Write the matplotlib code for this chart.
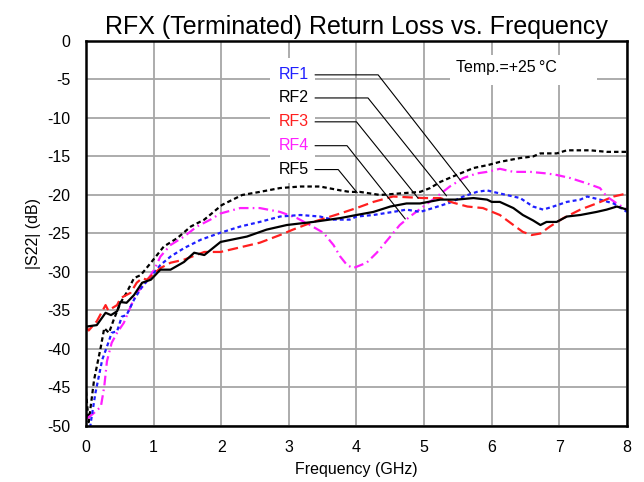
import matplotlib
matplotlib.use("Agg")
import matplotlib.pyplot as plt
from matplotlib.patches import Rectangle

plt.rcParams['font.family'] = ['Liberation Sans', 'DejaVu Sans']
plt.rcParams['lines.scale_dashes'] = False
plt.rcParams['axes.unicode_minus'] = False

# ---- data ----
rf1_f = [0.04, 0.07, 0.14, 0.24, 0.31, 0.38, 0.46, 0.53, 0.60, 0.71, 0.83, 0.96, 1.10, 1.25, 1.45, 1.70,
         1.99, 2.28, 2.57, 2.87, 3.17, 3.46, 3.65, 3.90, 4.00, 4.25, 4.54, 4.74, 4.94, 5.13, 5.38, 5.58,
         5.78, 5.93, 6.02, 6.22, 6.42, 6.61, 6.76, 6.91, 7.11, 7.31, 7.41, 7.60, 7.80, 8.00]
rf1_db = [-52.0, -49.6, -45.7, -41.4, -39.7, -37.9, -37.7, -35.8, -35.6, -33.6, -31.9, -30.6, -29.1, -28.0, -26.9, -25.8,
          -24.9, -24.1, -23.5, -22.8, -22.6, -22.8, -23.2, -23.2, -22.8, -22.6, -22.2, -21.9, -22.2, -21.7, -21.0, -20.2,
          -19.6, -19.4, -19.6, -20.0, -20.4, -21.5, -21.9, -21.5, -20.9, -20.6, -20.2, -20.6, -21.1, -22.2]

rf2_f = [0.00, 0.04, 0.12, 0.22, 0.27, 0.34, 0.41, 0.51, 0.60, 0.71, 0.81, 0.96, 1.15, 1.35, 1.55, 1.75,
         2.01, 2.31, 2.57, 2.87, 3.17, 3.46, 3.76, 3.90, 4.05, 4.35, 4.64, 4.94, 5.09, 5.24, 5.48, 5.73,
         5.95, 6.12, 6.42, 6.61, 6.72, 6.96, 7.11, 7.46, 7.70, 8.00]
rf2_db = [-45.5, -49.5, -44.0, -39.7, -37.3, -37.9, -36.2, -34.0, -32.7, -30.8, -30.4, -28.8, -26.7, -25.6, -24.1, -23.2,
          -21.3, -20.0, -19.6, -19.1, -18.9, -18.9, -19.4, -19.6, -19.6, -20.0, -19.8, -19.6, -19.1, -18.3, -17.4, -16.5,
          -16.1, -15.7, -15.2, -15.0, -14.6, -14.6, -14.2, -14.2, -14.4, -14.4]

rf3_f = [0.00, 0.04, 0.16, 0.29, 0.33, 0.46, 0.51, 0.66, 0.75, 0.83, 0.90, 1.10, 1.25, 1.45, 1.75, 1.99,
         2.57, 2.87, 3.06, 3.36, 3.76, 4.00, 4.25, 4.54, 4.99, 5.24, 5.43, 5.64, 5.87, 6.12, 6.32, 6.46,
         6.59, 6.72, 6.86, 7.06, 7.31, 7.55, 7.80, 8.00]
rf3_db = [-37.1, -37.6, -36.4, -34.3, -35.0, -34.3, -33.4, -32.7, -31.4, -30.8, -31.0, -29.5, -28.8, -28.4, -27.4, -27.4,
          -26.2, -25.2, -24.5, -23.5, -22.4, -21.7, -20.9, -20.2, -20.4, -20.4, -21.0, -21.5, -21.7, -22.6, -23.9, -24.8,
          -25.2, -25.0, -24.1, -23.0, -21.9, -21.1, -20.2, -19.8]

rf4_f = [0.02, 0.12, 0.22, 0.27, 0.31, 0.38, 0.46, 0.56, 0.66, 0.75, 0.86, 1.01, 1.10, 1.25, 1.45, 1.64,
         1.84, 1.99, 2.28, 2.57, 2.87, 3.12, 3.31, 3.51, 3.66, 3.76, 3.86, 3.95, 4.15, 4.30, 4.50, 4.64,
         4.79, 4.99, 5.19, 5.38, 5.58, 5.78, 5.93, 6.12, 6.32, 6.57, 6.81, 6.96, 7.16, 7.41, 7.60, 7.70,
         7.85, 8.00]
rf4_db = [-49.0, -48.3, -47.5, -44.9, -41.6, -39.2, -37.9, -36.6, -34.5, -32.7, -31.7, -29.7, -28.0, -26.5, -25.4, -24.1,
          -23.2, -22.4, -21.7, -21.7, -22.2, -23.0, -23.9, -24.9, -26.5, -28.0, -29.1, -29.5, -28.8, -27.5, -25.4, -23.9,
          -22.8, -21.5, -20.2, -18.9, -17.8, -17.2, -17.0, -16.6, -17.0, -17.0, -17.2, -17.4, -17.8, -18.5, -19.1, -20.2,
          -21.1, -21.9]

rf5_f = [0.00, 0.16, 0.29, 0.37, 0.46, 0.51, 0.60, 0.71, 0.83, 0.96, 1.10, 1.25, 1.45, 1.60, 1.75, 1.99,
         2.38, 2.67, 2.97, 3.36, 3.76, 4.00, 4.25, 4.50, 4.74, 4.94, 5.24, 5.48, 5.73, 5.93, 6.00, 6.12,
         6.32, 6.46, 6.61, 6.72, 6.81, 6.96, 7.11, 7.31, 7.55, 7.70, 7.85, 8.00]
rf5_db = [-37.1, -36.9, -35.3, -35.6, -35.1, -33.9, -34.0, -33.0, -31.4, -31.0, -29.7, -29.7, -28.7, -27.5, -27.8, -26.1,
          -25.4, -24.5, -23.9, -23.5, -23.0, -22.6, -22.2, -21.5, -21.1, -21.1, -20.6, -20.6, -20.4, -20.6, -20.9, -20.9,
          -21.7, -22.6, -23.3, -23.9, -23.5, -23.5, -22.8, -22.6, -22.2, -21.9, -21.5, -21.9]

labels = ["RF1", "RF2", "RF3", "RF4", "RF5"]
label_colors = ["#1f1fff", "black", "#ff1f1f", "#ff1fff", "black"]
label_y = [-4.4, -7.4, -10.5, -13.6, -16.7]
elbow_x = [4.32, 4.17, 4.00, 3.86, 3.73]
end_x = [5.68, 5.33, 4.91, 4.72, 4.01]
end_y = [-19.7, -20.1, -20.4, -23.1, -19.7]

fig = plt.figure(figsize=(6.44, 4.82), dpi=100)
ax = fig.add_axes([0.1335, 0.1162, 0.8401, 0.7988])

ax.set_xlim(0, 8)
ax.set_ylim(-50, 0)
ax.set_xticks(range(0, 9))
ax.set_yticks(range(-50, 1, 5))
ax.grid(True, color="#a6a6a6", linewidth=1.3, zorder=0)
ax.set_axisbelow(True)
ax.tick_params(length=0, labelsize=11.5)
ax.tick_params(axis='x', pad=10)
ax.tick_params(axis='y', pad=11.5)
for s in ax.spines.values():
    s.set_linewidth(1.8)
    s.set_color("black")
    s.set_zorder(10)

# white backgrounds for annotations
ax.add_patch(Rectangle((2.72, -18.4), 0.67, 16.2, facecolor="white", edgecolor="none", zorder=1))
ax.add_patch(Rectangle((5.38, -5.7), 2.18, 3.9, facecolor="white", edgecolor="none", zorder=1))

lw = 1.6
ax.plot(rf2_f, rf2_db, color="black", lw=lw, dashes=(3.2, 2.2), zorder=3)
ax.plot(rf4_f, rf4_db, color="#ff1fff", lw=lw, dashes=(7, 3, 1.2, 3), zorder=3)
ax.plot(rf1_f, rf1_db, color="#1f1fff", lw=lw, dashes=(2.8, 2.2), zorder=3)
ax.plot(rf3_f, rf3_db, color="#ff1f1f", lw=lw, dashes=(7.5, 3.5), zorder=3)
ax.plot(rf5_f, rf5_db, color="black", lw=lw, zorder=3)

for lab, c, ly, ex, tx, ty in zip(labels, label_colors, label_y, elbow_x, end_x, end_y):
    ax.text(3.07, ly, lab, color=c, fontsize=11.5, ha="center", va="center", zorder=5)
    ax.plot([3.39, ex, tx], [ly, ly, ty], color="black", lw=0.8, zorder=4)

ax.text(5.47, -3.5, "Temp.=+25\u2009\u00b0C", fontsize=11.5, ha="left", va="center", zorder=5)

ax.set_title("RFX (Terminated) Return Loss vs. Frequency", fontsize=18, pad=5)
ax.set_xlabel("Frequency (GHz)", fontsize=11.5, labelpad=5)
ax.set_ylabel("|S22| (dB)", fontsize=11.5, labelpad=4)

fig.savefig("out.png", dpi=100)
